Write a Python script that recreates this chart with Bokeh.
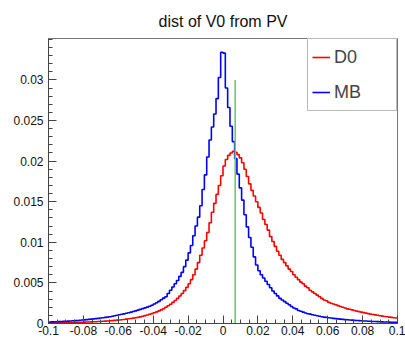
import numpy as np
from bokeh.plotting import figure
from bokeh.models import FixedTicker, Legend, LegendItem, Range1d
from bokeh.embed import file_html
from bokeh.resources import INLINE

# ---- data ----
x_min, x_max, n_bins = -0.1, 0.1, 150

mb_counts = [
    0.00019, 0.00020, 0.00021, 0.00022, 0.00023, 0.00024, 0.00026, 0.00027, 0.00029, 0.00031,
    0.00033, 0.00035, 0.00037, 0.00040, 0.00043, 0.00045, 0.00048, 0.00051, 0.00054, 0.00057,
    0.00060, 0.00063, 0.00067, 0.00071, 0.00075, 0.00079, 0.00084, 0.00089, 0.00095, 0.00101,
    0.00107, 0.00113, 0.00119, 0.00126, 0.00133, 0.00140, 0.00148, 0.00156, 0.00165, 0.00174,
    0.00183, 0.00192, 0.00202, 0.00213, 0.00225, 0.00240, 0.00256, 0.00273, 0.00292, 0.00313,
    0.0033, 0.0037, 0.0041, 0.0045, 0.0049, 0.0053, 0.0058, 0.0063, 0.0070, 0.0078,
    0.0087, 0.0096, 0.0108, 0.0120, 0.0131, 0.0145, 0.0165, 0.0183, 0.0205, 0.0226,
    0.0242, 0.0258, 0.0277, 0.0303, 0.0334, 0.0333, 0.0290, 0.0266, 0.0243, 0.0224,
    0.0203, 0.0184, 0.0167, 0.0152, 0.0134, 0.0119, 0.0106, 0.0094, 0.0082, 0.0072,
    0.0065, 0.0060, 0.0056, 0.0052, 0.0048, 0.0044, 0.0040, 0.0037, 0.0034, 0.0031,
    0.0029, 0.0027, 0.0025, 0.0023, 0.0021, 0.0019, 0.0018, 0.0016, 0.0015, 0.0014,
    0.0013, 0.0012, 0.00115, 0.00108, 0.00101, 0.00095, 0.00089, 0.00084, 0.00079, 0.00075,
    0.00071, 0.00067, 0.00063, 0.00060, 0.00057, 0.00054, 0.00051, 0.00048, 0.00046, 0.00043,
    0.00041, 0.00039, 0.00037, 0.00035, 0.00033, 0.00031, 0.00030, 0.00028, 0.00027, 0.00025,
    0.00024, 0.00023, 0.00021, 0.00020, 0.00019, 0.00018, 0.00017, 0.00016, 0.00015, 0.00014,
]

d0_counts = [
    0.00008, 0.00008, 0.00009, 0.00009, 0.00010, 0.00010, 0.00011, 0.00011, 0.00012, 0.00012,
    0.00013, 0.00014, 0.00014, 0.00015, 0.00016, 0.00017, 0.00018, 0.00019, 0.00020, 0.00021,
    0.00022, 0.00024, 0.00025, 0.00027, 0.00029, 0.00031, 0.00033, 0.00035, 0.00038, 0.00041,
    0.00044, 0.00047, 0.00050, 0.00054, 0.00058, 0.00062, 0.00066, 0.00071, 0.00076, 0.00082,
    0.00090, 0.00097, 0.00105, 0.00113, 0.00122, 0.00132, 0.00143, 0.00155, 0.00168, 0.00182,
    0.00200, 0.00218, 0.00238, 0.00260, 0.00284, 0.00310, 0.00338, 0.00370, 0.00405, 0.00445,
    0.0049, 0.0054, 0.0060, 0.0067, 0.0075, 0.0084, 0.0093, 0.0102, 0.0112, 0.0124,
    0.0137, 0.0148, 0.0159, 0.0170, 0.0182, 0.0194, 0.0202, 0.0207, 0.0210, 0.0212,
    0.0211, 0.0208, 0.0204, 0.0198, 0.0190, 0.0181, 0.0172, 0.0164, 0.0157, 0.0150,
    0.0143, 0.0136, 0.0128, 0.0122, 0.0115, 0.0107, 0.0101, 0.0095, 0.0089, 0.0084,
    0.0079, 0.0075, 0.0071, 0.0067, 0.0064, 0.0060, 0.0057, 0.0054, 0.0051, 0.0049,
    0.0046, 0.0044, 0.0041, 0.0039, 0.0037, 0.0035, 0.0033, 0.0031, 0.0029, 0.0028,
    0.0026, 0.0025, 0.0024, 0.0023, 0.0022, 0.0021, 0.0020, 0.0019, 0.0018, 0.00175,
    0.00168, 0.00160, 0.00153, 0.00146, 0.00140, 0.00134, 0.00128, 0.00122, 0.00116, 0.00111,
    0.00106, 0.00101, 0.00096, 0.00091, 0.00087, 0.00083, 0.00079, 0.00075, 0.00071, 0.00068,
]

x_ticks = [-0.1, -0.08, -0.06, -0.04, -0.02, 0.0, 0.02, 0.04, 0.06, 0.08, 0.1]
x_tick_labels = ["-0.1", "-0.08", "-0.06", "-0.04", "-0.02", "0",
                 "0.02", "0.04", "0.06", "0.08", "0.1"]
y_ticks = [0.0, 0.005, 0.01, 0.015, 0.02, 0.025, 0.03]
y_tick_labels = ["0", "0.005", "0.01", "0.015", "0.02", "0.025", "0.03"]
y_max = 0.0351

marker_x = 0.007
marker_top = 0.03

title_text = "dist of V0 from PV"
series_labels = ["D0", "MB"]

# ---- derived ----
edges = np.linspace(x_min, x_max, n_bins + 1)
mb_step = list(mb_counts) + [mb_counts[-1]]
d0_step = list(d0_counts) + [d0_counts[-1]]

FONT = "Liberation Sans"
AX = "#444444"

p = figure(width=405, height=338, output_backend="svg", toolbar_location=None,
           x_range=Range1d(x_min, x_max), y_range=Range1d(0, y_max),
           min_border_left=48, min_border_right=8, min_border_top=38, min_border_bottom=15)

p.title.text = title_text
p.title.align = "center"
p.title.text_font = FONT
p.title.text_font_size = "16px"
p.title.text_font_style = "normal"
p.title.text_color = "#111111"
p.title.standoff = 17

p.xgrid.visible = False
p.ygrid.visible = False
p.outline_line_color = "#777777"
p.outline_line_width = 1
p.background_fill_color = "white"
p.border_fill_color = "white"

# axes
minor_x = [float(v) for v in np.arange(-0.1, 0.1001, 0.005)]
minor_y = [float(v) for v in np.arange(0.0, y_max, 0.001)]
p.xaxis.ticker = FixedTicker(ticks=x_ticks, minor_ticks=minor_x)
p.yaxis.ticker = FixedTicker(ticks=y_ticks, minor_ticks=minor_y)
p.xaxis.major_label_overrides = {t: l for t, l in zip(x_ticks, x_tick_labels)}
p.yaxis.major_label_overrides = {t: l for t, l in zip(y_ticks, y_tick_labels)}
for ax in (p.xaxis[0], p.yaxis[0]):
    ax.major_tick_in = 8
    ax.major_tick_out = 0
    ax.minor_tick_in = 4
    ax.minor_tick_out = 0
    ax.axis_line_color = AX
    ax.major_tick_line_color = AX
    ax.minor_tick_line_color = AX
    ax.major_label_text_font = FONT
    ax.major_label_text_font_size = "12px"
    ax.major_label_text_color = "#111111"
p.xaxis.major_label_standoff = 2
p.yaxis.major_label_standoff = 5

r_d0 = p.step(edges, d0_step, mode="after", line_color="#ff0000", line_width=1.6)
r_mb = p.step(edges, mb_step, mode="after", line_color="#0000ff", line_width=1.6)
p.segment(x0=[marker_x], y0=[0], x1=[marker_x], y1=[marker_top],
          line_color="#5fd35f", line_width=1.6)

legend = Legend(items=[LegendItem(label=series_labels[0], renderers=[r_d0]),
                       LegendItem(label=series_labels[1], renderers=[r_mb])],
                location="top_right", margin=0, padding=4, spacing=7,
                glyph_height=28, label_height=28, glyph_width=18, label_width=58,
                label_standoff=4, label_text_font=FONT, label_text_font_size="18px",
                border_line_color="#777777", border_line_width=1,
                background_fill_color="white", background_fill_alpha=1)
p.add_layout(legend)

open("out.html", "w").write(file_html(p, INLINE))
